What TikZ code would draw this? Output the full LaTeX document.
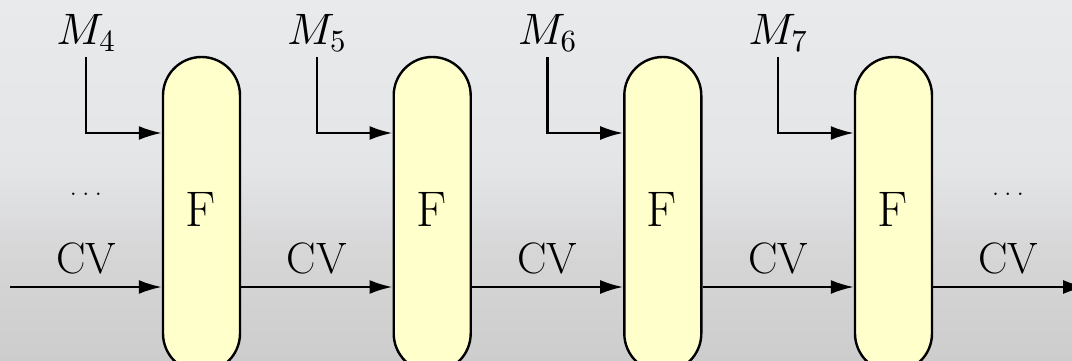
\documentclass[tikz,border=0pt]{standalone}
\usetikzlibrary{arrows.meta}
\DeclareFontShape{OML}{cmm}{m}{it}{<-> cmmi10}{}
\DeclareFontShape{OT1}{cmr}{m}{n}{<-> cmr10}{}
\DeclareFontShape{OMS}{cmsy}{m}{n}{<-> cmsy10}{}
\definecolor{bgtop}{HTML}{E9EAEC}
\definecolor{bgmid}{HTML}{E4E5E7}
\definecolor{bglow}{HTML}{D6D6D7}
\definecolor{bgbot}{HTML}{CDCDCE}
\definecolor{boxfill}{HTML}{FFFFCC}
\pgfdeclareverticalshading{bgshade}{100bp}{color(0bp)=(bgbot); color(25bp)=(bgbot); color(40bp)=(bglow); color(52bp)=(bgmid); color(75bp)=(bgtop); color(100bp)=(bgtop)}
\tikzset{
  fbox/.style={draw=black, line width=2.4pt, fill=boxfill, rounded corners=38.5pt,
    minimum width=77pt, minimum height=315pt, inner sep=0pt},
  flbl/.style={font=\fontsize{50}{56}\selectfont, anchor=base, inner sep=0pt},
  lbl/.style={font=\fontsize{44}{50}\selectfont, anchor=base, inner sep=0pt},
  dotlbl/.style={font=\fontsize{30}{34}\selectfont, anchor=base, inner sep=0pt},
  arr/.style={line width=2.4pt, -{Latex[length=23pt,width=14pt]}},
}
\begin{document}
\begin{tikzpicture}[x=1pt,y=-1pt]
  \useasboundingbox (0,0) rectangle (1072,361);
  \clip (0,0) rectangle (1072,361);
  \shade[shading=bgshade] (0,0) rectangle (1072,361);
  % boxes
  \foreach \i/\cx in {1/201.5, 2/432.2, 3/662.8, 4/893.5} {
    \node[fbox] (F\i) at (\cx,214.5) {};
    \node[flbl] (Ft\i) at (\cx-1,226) {F};
  }
  % message inputs
  \foreach \i/\mx/\n in {1/86/4, 2/316.7/5, 3/547.3/6, 4/778/7} {
    \node[lbl] (M\i) at (\mx,45) {$M_{\n}$};
    \coordinate (Mtop\i) at (\mx,57);
    \draw[arr] (Mtop\i) |- (F\i.west |- 0,133);
  }
  % chaining values
  \coordinate (cvstart) at (10,287);
  \coordinate (cvend) at (1086,287);
  \draw[arr] (cvstart) -- (F1.west |- cvstart);
  \draw[arr] (F1.east |- cvstart) -- (F2.west |- cvstart);
  \draw[arr] (F2.east |- cvstart) -- (F3.west |- cvstart);
  \draw[arr] (F3.east |- cvstart) -- (F4.west |- cvstart);
  \draw[arr] (F4.east |- cvstart) -- (cvend);
  \foreach \j/\x in {0/86, 1/316.7, 2/547.3, 3/778, 4/1008} {
    \node[lbl] (CV\j) at (\x,273) {CV};
  }
  \node[dotlbl] (dotsL) at (86,195) {.\kern.1667em.\kern.1667em.};
  \node[dotlbl] (dotsR) at (1008,195) {.\kern.1667em.\kern.1667em.};
\end{tikzpicture}
\end{document}
